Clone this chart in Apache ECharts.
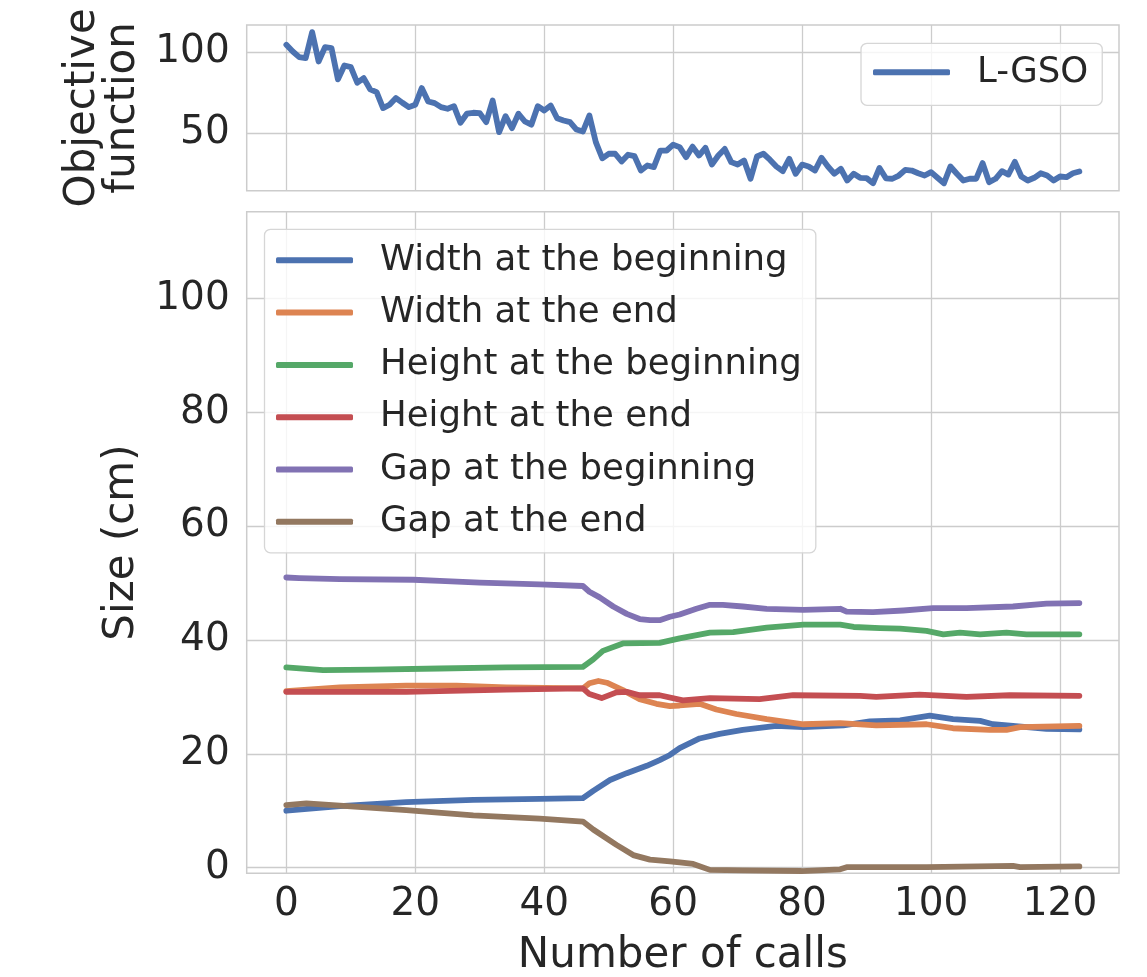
<!DOCTYPE html>
<html>
<head>
<meta charset="utf-8">
<script src="https://cdn.jsdelivr.net/npm/echarts@6/dist/echarts.min.js"></script>
<style>
  html, body { margin: 0; padding: 0; background: #fff; }
  #chart { width: 1147px; height: 977px; }
</style>
</head>
<body>
<div id="chart"></div>
<script>
// objective function per call (0..123)
var objective = [
  104.5, 100.4, 96.9, 96.3, 112.4, 94.2, 103.1, 102.5, 83.1, 91.7,
  90.7, 81.0, 83.9, 76.9, 75.2, 65.3, 67.4, 71.5, 68.6, 65.9,
  67.4, 77.7, 69.4, 68.4, 65.9, 64.9, 66.5, 56.2, 61.8, 62.4,
  62.2, 56.6, 70.0, 50.4, 60.3, 52.9, 61.8, 57.0, 55.0, 66.5,
  63.8, 66.9, 59.0, 57.6, 56.6, 52.0, 50.8, 60.7, 44.2, 34.2,
  37.0, 37.0, 32.2, 36.4, 35.5, 26.6, 29.7, 28.7, 39.0, 39.0,
  42.6, 41.1, 34.9, 41.4, 35.9, 40.7, 30.3, 35.9, 40.0, 31.8,
  30.3, 32.8, 21.5, 35.3, 37.0, 33.3, 29.1, 26.2, 33.9, 24.6,
  30.3, 29.1, 26.6, 34.5, 29.1, 24.6, 27.7, 20.4, 24.6, 22.1,
  21.9, 18.7, 28.2, 21.8, 21.5, 23.5, 27.0, 26.6, 24.9, 23.5,
  25.6, 22.1, 18.7, 29.1, 24.6, 20.4, 21.5, 21.5, 31.2, 19.4,
  21.5, 26.2, 24.1, 32.0, 22.9, 20.4, 22.1, 24.9, 23.5, 20.4,
  22.9, 22.5, 24.9, 26.0
];

// sizes read at [call, cm]
var widthBegin = [[0,10.0],[8.3,10.8],[18.6,11.5],[29,11.9],[39.3,12.1],[46,12.2],[47.6,13.5],[50.2,15.4],[52.8,16.6],[55.9,17.9],[57.9,18.9],[59.5,19.8],[61,21.0],[64.1,22.7],[67.2,23.5],[70.8,24.2],[76,24.9],[80.2,24.7],[86.4,25.0],[90.5,25.7],[95.2,25.9],[99.8,26.7],[103.4,26.1],[107.6,25.8],[109.6,25.2],[112.7,24.9],[117.9,24.4],[123,24.3]];
var widthEnd = [[0,31.0],[8.3,31.7],[18.6,32.0],[26.4,32.0],[34.1,31.7],[46,31.5],[47,32.4],[48.4,32.8],[49.7,32.5],[52.2,31.2],[54.8,29.6],[57.4,28.8],[59.5,28.4],[61,28.5],[64.1,28.8],[66.7,27.8],[69.8,27.0],[74.5,26.1],[80.2,25.2],[85.9,25.4],[91.5,25.0],[99.3,25.2],[103.4,24.5],[109.1,24.2],[111.7,24.2],[113.8,24.7],[123,24.9]];
var heightBegin = [[0,35.2],[5.7,34.7],[13.4,34.8],[23.8,35.0],[34.1,35.2],[46,35.3],[47.6,36.6],[49.1,38.1],[52.2,39.4],[57.9,39.5],[61,40.3],[65.7,41.3],[69.3,41.4],[74.5,42.2],[80.2,42.7],[85.9,42.7],[88,42.3],[92.1,42.1],[95.2,42.0],[99.3,41.6],[101.9,41.0],[104.5,41.3],[107.6,41.0],[111.7,41.3],[114.8,41.0],[123,41.0]];
var heightEnd = [[0,30.9],[18.6,30.9],[34.1,31.3],[46,31.5],[47,30.5],[48.9,29.8],[51.2,30.8],[52.8,30.9],[54.8,30.3],[57.9,30.3],[61.5,29.4],[65.7,29.8],[73.4,29.6],[78.6,30.3],[89,30.2],[91.5,30.0],[98.2,30.4],[105.5,30.0],[112.2,30.3],[123,30.2]];
var gapBegin = [[0,51.0],[2,50.9],[8.3,50.7],[19.7,50.6],[23.8,50.4],[30,50.1],[39.3,49.8],[46,49.5],[47,48.5],[48.6,47.5],[50.7,45.9],[52.8,44.6],[54.8,43.7],[56.4,43.5],[57.9,43.5],[59.5,44.1],[61,44.5],[63.6,45.5],[65.7,46.2],[67.7,46.2],[70.8,45.9],[74.5,45.5],[80.2,45.3],[85.9,45.5],[86.9,45.0],[91,44.9],[95.7,45.2],[100.3,45.6],[105.5,45.6],[112.7,45.9],[117.9,46.4],[123,46.5]];
var gapEnd = [[0,11.0],[3.1,11.3],[8.3,10.9],[18.6,10.1],[29,9.2],[39.3,8.6],[46,8.1],[47.6,6.7],[51.2,4.0],[53.8,2.2],[56.4,1.4],[59.5,1.1],[61,0.9],[63.1,0.65],[65.7,-0.4],[70.8,-0.5],[79.9,-0.6],[85.9,-0.3],[86.9,0.07],[99.3,0.1],[112.7,0.3],[113.8,0.07],[123,0.2]];

var xTicks = [0, 20, 40, 60, 80, 100, 120];
var objTicks = [50, 100];
var sizeTicks = [0, 20, 40, 60, 80, 100];

var sizeNames = ['Width at the beginning', 'Width at the end', 'Height at the beginning', 'Height at the end', 'Gap at the beginning', 'Gap at the end'];
var sizeData = [widthBegin, widthEnd, heightBegin, heightEnd, gapBegin, gapEnd];
var colors = ['#4C72B0', '#DD8452', '#55A868', '#C44E52', '#8172B3', '#937860'];

var font = 'DejaVu Sans';
var ink = '#262626';
var gridColor = '#cccccc';

function xAxisOf(gridIndex, withLabels) {
  return {
    type: 'value', gridIndex: gridIndex,
    min: -6.15, max: 129.15,
    axisLine: { show: false }, axisTick: { show: false, customValues: xTicks },
    splitLine: { show: true, lineStyle: { color: gridColor, width: 1.3 } },
    axisLabel: { show: withLabels, customValues: xTicks, fontFamily: font, fontSize: 39, color: ink, margin: 12 },
    name: withLabels ? 'Number of calls' : '',
    nameLocation: 'middle', nameGap: 62,
    nameTextStyle: { fontFamily: font, fontSize: 42, color: ink }
  };
}

var series = [{
  name: 'L-GSO', type: 'line', xAxisIndex: 0, yAxisIndex: 0,
  data: objective.map(function (v, i) { return [i, v]; }),
  symbol: 'none', color: colors[0],
  lineStyle: { width: 5.8, cap: 'round', join: 'round' }
}];
sizeNames.forEach(function (n, k) {
  series.push({
    name: n, type: 'line', xAxisIndex: 1, yAxisIndex: 1,
    data: sizeData[k], symbol: 'none', color: colors[k],
    lineStyle: { width: 5.8, cap: 'round', join: 'round' }
  });
});

var legendBase = {
  orient: 'vertical',
  icon: 'roundRect', itemWidth: 77, itemHeight: 6,
  backgroundColor: 'rgba(255,255,255,0.8)',
  borderColor: '#d6d6d6', borderWidth: 1.3, borderRadius: 6,
  textStyle: { fontFamily: font, fontSize: 35.5, color: ink, lineHeight: 40, padding: [0, 0, 0, 22] }
};

var option = {
  animation: false,
  backgroundColor: '#fff',
  grid: [
    { left: 246.7, right: 28, top: 25, height: 165.7, show: true, borderColor: gridColor, borderWidth: 1.5, outerBoundsMode: 'none' },
    { left: 246.7, right: 28, top: 211.7, height: 661.6, show: true, borderColor: gridColor, borderWidth: 1.5, outerBoundsMode: 'none' }
  ],
  xAxis: [xAxisOf(0, false), xAxisOf(1, true)],
  yAxis: [{
    type: 'value', gridIndex: 0, min: 14.1, max: 116.8,
    axisLine: { show: false }, axisTick: { show: false, customValues: objTicks },
    splitLine: { show: true, lineStyle: { color: gridColor, width: 1.3 } },
    axisLabel: { customValues: objTicks, fontFamily: font, fontSize: 39, color: ink, margin: 17 },
    name: 'Objective\nfunction', nameLocation: 'middle', nameGap: 104,
    nameTextStyle: { fontFamily: font, fontSize: 42, color: ink, lineHeight: 40 }
  }, {
    type: 'value', gridIndex: 1, min: -1, max: 115.3,
    axisLine: { show: false }, axisTick: { show: false, customValues: sizeTicks },
    splitLine: { show: true, lineStyle: { color: gridColor, width: 1.3 } },
    axisLabel: { customValues: sizeTicks, fontFamily: font, fontSize: 39, color: ink, margin: 17 },
    name: 'Size (cm)', nameLocation: 'middle', nameGap: 104,
    nameTextStyle: { fontFamily: font, fontSize: 42, color: ink }
  }],
  legend: [
    Object.assign({}, legendBase, { data: ['L-GSO'], left: 861, top: 43.3, padding: [9, 14, 13, 12] }),
    Object.assign({}, legendBase, { data: sizeNames, left: 264.5, top: 229.3, itemGap: 12.3, padding: [11, 14, 11, 11.5] })
  ],
  series: series
};

var myChart = echarts.init(document.getElementById('chart'));
myChart.setOption(option);
</script>
</body>
</html>
